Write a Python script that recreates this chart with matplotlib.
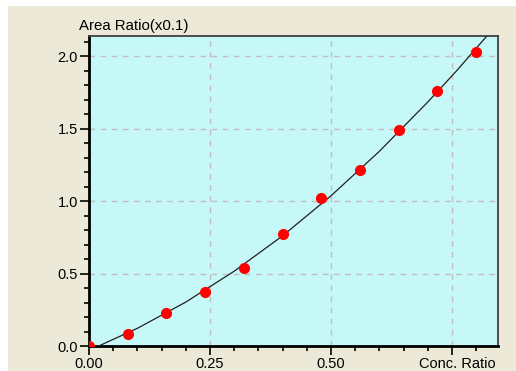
import matplotlib
matplotlib.use("Agg")
import matplotlib.pyplot as plt
from matplotlib.patches import Rectangle
from matplotlib.ticker import MultipleLocator

# calibration points (conc ratio vs area ratio x0.1)
conc = [0.00, 0.08, 0.16, 0.24, 0.32, 0.40, 0.48, 0.56, 0.64, 0.72, 0.80]
area = [0.00, 0.083, 0.228, 0.372, 0.538, 0.772, 1.02, 1.214, 1.49, 1.76, 2.03]

# fitted curve
curve_x = [0.02, 0.10, 0.20, 0.30, 0.40, 0.50, 0.60, 0.70, 0.76, 0.822]
curve_y = [0.00, 0.122, 0.303, 0.516, 0.76, 1.036, 1.343, 1.683, 1.90, 2.138]

xtick_vals = [0.0, 0.25, 0.50]
xtick_text = ["0.00", "0.25", "0.50"]

plt.rcParams["font.family"] = ["Liberation Sans", "DejaVu Sans"]

fig = plt.figure(figsize=(5.16, 3.71), dpi=100, facecolor="white")
fig.patches.append(Rectangle((8 / 516, 0), 1, 1 - 6 / 371, transform=fig.transFigure,
                             facecolor="#ECE9D8", edgecolor="none", zorder=-10))

ax = fig.add_axes([89 / 516, 25 / 371, 409 / 516, 310 / 371])
ax.set_facecolor("#C6F8F8")

ax.plot(curve_x, curve_y, color="#202020", lw=0.9, zorder=3)
ax.plot(conc, area, "o", color="#FF0000", ms=7, mec="#FF0000", zorder=4)

ax.set_xlim(0, 0.845)
ax.set_ylim(0, 2.138)

ax.xaxis.set_major_locator(MultipleLocator(0.25))
ax.xaxis.set_minor_locator(MultipleLocator(0.05))
ax.yaxis.set_major_locator(MultipleLocator(0.5))
ax.yaxis.set_minor_locator(MultipleLocator(0.1))
ax.set_xticks([0.0, 0.25, 0.50, 0.75])
ax.set_xticklabels(xtick_text + [""])
ax.set_yticks([0.0, 0.5, 1.0, 1.5, 2.0])
ax.set_yticklabels(["0.0", "0.5", "1.0", "1.5", "2.0"])

ax.grid(True, which="major", color="#C4BCC0", ls=(0, (4, 4)), lw=1)
ax.set_axisbelow(True)

ax.tick_params(which="major", direction="out", length=6.5, width=1.2, labelsize=10.5,
               colors="black", pad=1.5)
ax.tick_params(which="minor", direction="out", length=3.5, width=1.2)

for s in ("left", "bottom"):
    ax.spines[s].set_linewidth(2)
    ax.spines[s].set_color("black")
for s in ("top", "right"):
    ax.spines[s].set_linewidth(1.3)
    ax.spines[s].set_color("#404040")

ax.text(-0.025, 1.01, "Area Ratio(x0.1)", transform=ax.transAxes, ha="left", va="bottom",
        fontsize=10.8)
ax.text(0.993, -0.035, "Conc. Ratio", transform=ax.transAxes, ha="right", va="top",
        fontsize=10.5)

fig.savefig("out.png", dpi=100, facecolor=fig.get_facecolor())
